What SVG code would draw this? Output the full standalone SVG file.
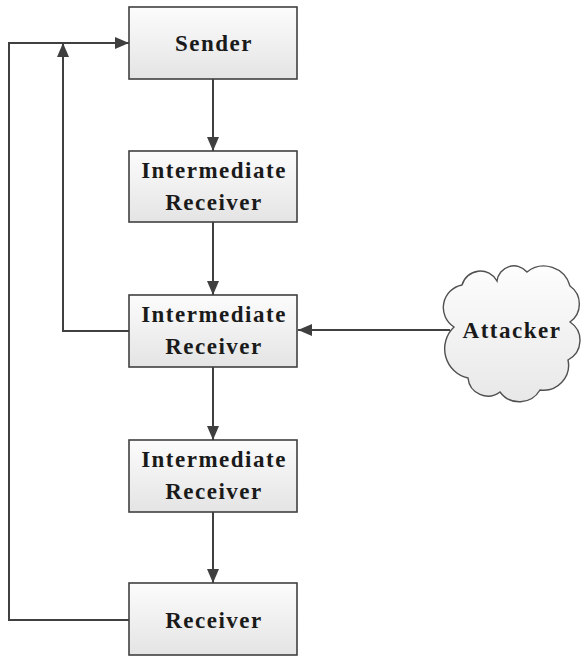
<svg xmlns="http://www.w3.org/2000/svg" width="583" height="657" viewBox="0 0 583 657">
  <defs>
    <linearGradient id="boxFill" x1="0" y1="0" x2="0" y2="1">
      <stop offset="0" stop-color="#fcfcfc"/>
      <stop offset="1" stop-color="#e4e4e4"/>
    </linearGradient>
    <linearGradient id="cloudFill" x1="0" y1="0" x2="0" y2="1">
      <stop offset="0" stop-color="#fdfdfd"/>
      <stop offset="1" stop-color="#e8e8e8"/>
    </linearGradient>
    <marker id="arrow" viewBox="0 0 14 12" refX="14" refY="6" markerWidth="14" markerHeight="12" markerUnits="userSpaceOnUse" orient="auto">
      <path d="M0,0 L14,6 L0,12 Z" fill="#3f3f3f"/>
    </marker>
  </defs>
  <style>
    .box { fill: url(#boxFill); stroke: #404040; stroke-width: 1.6; }
    .cloud { fill: url(#cloudFill); stroke: #505050; stroke-width: 1.4; }
    .label { font-family: "Liberation Serif", "Times New Roman", serif; font-weight: bold; font-size: 23px; letter-spacing: 1.5px; fill: #1a1a1a; text-anchor: middle; }
    .edge { fill: none; stroke: #404040; stroke-width: 2; }
  </style>
  <rect width="583" height="657" fill="#ffffff"/>

  <g id="connectors">
    <line class="edge" x1="213" y1="79" x2="213" y2="151" marker-end="url(#arrow)"/>
    <line class="edge" x1="213" y1="222" x2="213" y2="295" marker-end="url(#arrow)"/>
    <line class="edge" x1="213" y1="367" x2="213" y2="440" marker-end="url(#arrow)"/>
    <line class="edge" x1="213" y1="512" x2="213" y2="583" marker-end="url(#arrow)"/>
    <line class="edge" x1="450" y1="330" x2="298" y2="330" marker-end="url(#arrow)"/>
    <polyline class="edge" points="129,331 63,331 63,43" marker-end="url(#arrow)"/>
    <polyline class="edge" points="129,620 9,620 9,43 129,43" marker-end="url(#arrow)"/>
  </g>

  <g id="sender">
    <rect class="box" x="129" y="7" width="168" height="72"/>
    <text class="label" x="214" y="51">Sender</text>
  </g>

  <g id="intermediate-1">
    <rect class="box" x="129" y="151" width="168" height="71"/>
    <text class="label" x="214" y="178">Intermediate</text>
    <text class="label" x="214" y="210">Receiver</text>
  </g>

  <g id="intermediate-2">
    <rect class="box" x="129" y="295" width="168" height="72"/>
    <text class="label" x="214" y="322">Intermediate</text>
    <text class="label" x="214" y="354">Receiver</text>
  </g>

  <g id="intermediate-3">
    <rect class="box" x="129" y="440" width="168" height="72"/>
    <text class="label" x="214" y="467">Intermediate</text>
    <text class="label" x="214" y="499">Receiver</text>
  </g>

  <g id="receiver">
    <rect class="box" x="129" y="583" width="168" height="72"/>
    <text class="label" x="214" y="628">Receiver</text>
  </g>

  <g id="attacker">
    <path class="cloud" d="M454,327 A23,23 0 0 1 462,285 A19,19 0 0 1 497,281 A17,17 0 0 1 527,272 A27,27 0 0 1 570,286 A22,22 0 0 1 570,322 A22,22 0 0 1 568,360 A25,25 0 0 1 540,390 A24,24 0 0 1 500,392 A20,20 0 0 1 468,378 A30,30 0 0 1 454,327 Z"/>
    <text class="label" x="512" y="338">Attacker</text>
  </g>
</svg>
